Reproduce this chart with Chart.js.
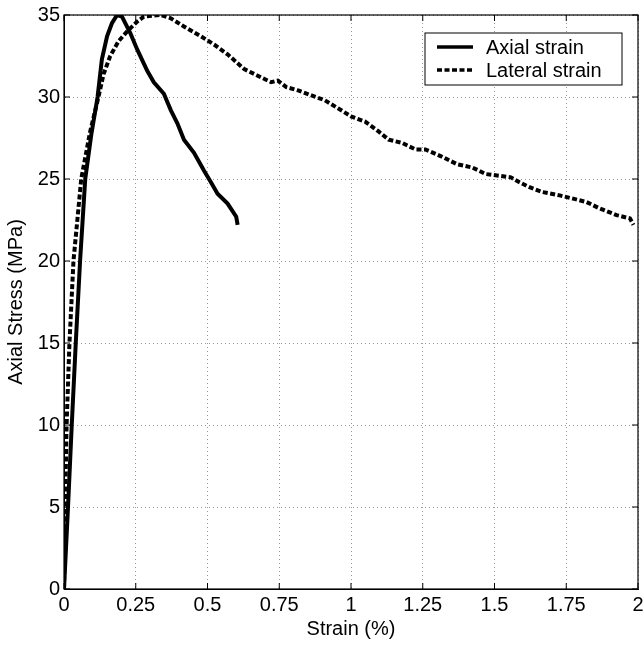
<!DOCTYPE html>
<html>
<head>
<meta charset="utf-8">
<script src="https://cdn.jsdelivr.net/npm/chart.js@4"></script>
<style>
  html, body { margin: 0; padding: 0; background: #fff; }
  #wrap { width: 644px; height: 645px; }
</style>
</head>
<body>
<div id="wrap"><canvas id="grafico"></canvas></div>
<script>
// Curva axial (deformação %, tensão MPa)
const axialStrain = [0, 0.014, 0.027, 0.041, 0.056, 0.074, 0.095, 0.117, 0.132, 0.150, 0.167, 0.185,
  0.202, 0.231, 0.255, 0.290, 0.313, 0.348, 0.372, 0.395, 0.418, 0.453, 0.488, 0.512, 0.535, 0.570, 0.600, 0.605];
const axialStress = [0, 5, 10, 15, 20, 25, 27.7, 30.0, 32.3, 33.7, 34.5, 35.0,
  34.9, 33.9, 32.9, 31.6, 30.9, 30.2, 29.2, 28.4, 27.4, 26.6, 25.5, 24.8, 24.1, 23.5, 22.7, 22.2];

// Curva lateral
const lateralStrain = [0, 0.004, 0.009, 0.019, 0.033, 0.060, 0.090, 0.120, 0.138, 0.161, 0.190, 0.220, 0.255,
  0.278, 0.336, 0.372, 0.418, 0.477, 0.523, 0.570, 0.628, 0.675, 0.722, 0.745, 0.775, 0.816, 0.862, 0.909,
  0.956, 1.002, 1.049, 1.096, 1.131, 1.178, 1.225, 1.259, 1.312, 1.370, 1.423, 1.470, 1.517, 1.557, 1.587,
  1.622, 1.668, 1.727, 1.774, 1.820, 1.867, 1.925, 1.972, 1.984];
const lateralStress = [0, 5, 10, 15, 20, 25, 27.8, 30.0, 31.4, 32.5, 33.4, 34.0, 34.6,
  34.9, 35.0, 34.8, 34.3, 33.7, 33.2, 32.6, 31.7, 31.3, 30.9, 31.0, 30.6, 30.4, 30.1, 29.8,
  29.3, 28.8, 28.5, 27.9, 27.4, 27.2, 26.8, 26.8, 26.4, 25.9, 25.7, 25.3, 25.2, 25.1, 24.8,
  24.5, 24.2, 24.0, 23.8, 23.6, 23.2, 22.8, 22.6, 22.2];

const seriesLabels = ['Axial strain', 'Lateral strain'];

const toXY = (xs, ys) => xs.map((x, i) => ({ x: x, y: ys[i] }));
const FONT = '"Liberation Sans", Arial, sans-serif';

// moldura, marcas internas e legenda dentro do gráfico
const boxPlugin = {
  id: 'boxLegend',
  afterDraw(chart) {
    const ctx = chart.ctx;
    const a = chart.chartArea;
    ctx.save();
    ctx.strokeStyle = '#000';
    ctx.lineWidth = 1.2;
    ctx.strokeRect(a.left, a.top, a.right - a.left, a.bottom - a.top);

    // marcas dos ticks para dentro (estilo matlab)
    ctx.lineWidth = 1;
    chart.scales.x.ticks.forEach(t => {
      const px = chart.scales.x.getPixelForValue(t.value);
      ctx.beginPath();
      ctx.moveTo(px, a.bottom); ctx.lineTo(px, a.bottom - 6);
      ctx.moveTo(px, a.top); ctx.lineTo(px, a.top + 6);
      ctx.stroke();
    });
    chart.scales.y.ticks.forEach(t => {
      const py = chart.scales.y.getPixelForValue(t.value);
      ctx.beginPath();
      ctx.moveTo(a.left, py); ctx.lineTo(a.left + 6, py);
      ctx.moveTo(a.right, py); ctx.lineTo(a.right - 6, py);
      ctx.stroke();
    });

    // legenda
    const bx = a.right - 213, by = a.top + 18, bw = 197, bh = 52;
    ctx.fillStyle = '#fff';
    ctx.fillRect(bx, by, bw, bh);
    ctx.lineWidth = 1;
    ctx.strokeRect(bx, by, bw, bh);
    ctx.font = '20px ' + FONT;
    ctx.textBaseline = 'middle';
    chart.data.datasets.forEach((ds, i) => {
      const yy = by + 14 + i * 23;
      ctx.beginPath();
      ctx.lineWidth = 3.5;
      ctx.strokeStyle = '#000';
      ctx.setLineDash(ds.borderDash || []);
      ctx.moveTo(bx + 12, yy);
      ctx.lineTo(bx + 48, yy);
      ctx.stroke();
      ctx.setLineDash([]);
      ctx.fillStyle = '#000';
      ctx.fillText(ds.label, bx + 61, yy + 1);
    });
    ctx.restore();
  }
};

const ctx = document.getElementById('grafico').getContext('2d');
const gridStyle = { color: '#999', lineWidth: 1, tickLength: 0 };

new Chart(ctx, {
  type: 'line',
  data: {
    datasets: [{
      label: seriesLabels[0],
      data: toXY(axialStrain, axialStress),
      borderColor: '#000',
      borderWidth: 4,
      pointRadius: 0,
      fill: false,
      tension: 0
    }, {
      label: seriesLabels[1],
      data: toXY(lateralStrain, lateralStress),
      borderColor: '#000',
      borderWidth: 4,
      borderDash: [5, 2.5],
      pointRadius: 0,
      fill: false,
      tension: 0
    }]
  },
  options: {
    responsive: true,
    maintainAspectRatio: false,
    animation: false,
    layout: { padding: { left: 0, top: 15, right: 6, bottom: 0 } },
    plugins: { legend: { display: false }, tooltip: { enabled: false } },
    scales: {
      x: {
        type: 'linear',
        min: 0, max: 2,
        afterFit: s => { s.height = 56; s.paddingLeft = 0; s.paddingRight = 0; },
        ticks: { stepSize: 0.25, color: '#000', padding: 4,
          callback: v => String(+v.toFixed(2)),
          font: { family: FONT, size: 20 } },
        grid: Object.assign({}, gridStyle),
        border: { display: true, color: '#000', dash: [1, 3] },
        title: { display: true, text: 'Strain (%)', color: '#000', padding: { top: 0 },
          font: { family: FONT, size: 20 } }
      },
      y: {
        min: 0, max: 35,
        afterFit: s => { s.width = 64; s.paddingTop = 0; s.paddingBottom = 0; },
        ticks: { stepSize: 5, color: '#000', padding: 4,
          font: { family: FONT, size: 20 } },
        grid: Object.assign({}, gridStyle),
        border: { display: true, color: '#000', dash: [1, 3] },
        title: { display: true, text: 'Axial Stress (MPa)', color: '#000', padding: { top: 4, bottom: 0 },
          font: { family: FONT, size: 20 } }
      }
    }
  },
  plugins: [boxPlugin]
});
</script>
</body>
</html>
